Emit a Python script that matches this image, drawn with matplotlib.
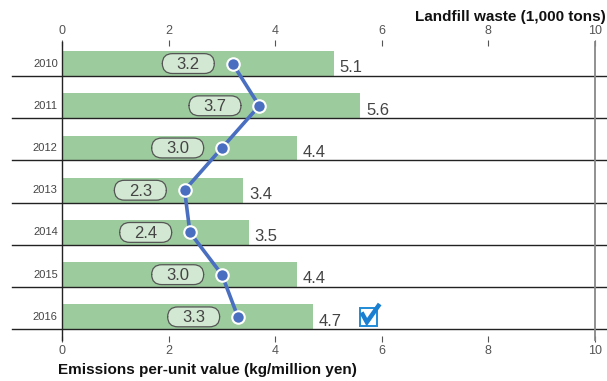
import matplotlib.pyplot as plt
from matplotlib.patches import FancyBboxPatch, Rectangle

plt.rcParams['font.family'] = ['Liberation Sans', 'DejaVu Sans']

years = ['2010', '2011', '2012', '2013', '2014', '2015', '2016']
landfill = [5.1, 5.6, 4.4, 3.4, 3.5, 4.4, 4.7]        # 1,000 tons
emissions = [3.2, 3.7, 3.0, 2.3, 2.4, 3.0, 3.3]       # kg/million yen
ticks = [0, 2, 4, 6, 8, 10]

BAR = '#9ccb9d'
LINE = '#4a6fc0'
BOX = '#d2e8d2'
TXT = '#444444'


def main():
    fig = plt.figure(figsize=(6.07, 3.81), dpi=100)
    # axes box: x 62..595 px, y 40..342 px
    ax = fig.add_axes([62 / 607, 1 - 342 / 381, 533 / 607, 302 / 381])
    ax.set_xlim(0, 10)
    ax.set_ylim(7.30, 0.147)
    for s in ax.spines.values():
        s.set_visible(False)

    n = len(years)
    rows = list(range(n))
    centers = [i + 0.705 for i in rows]

    # bars sit on each row's bottom rule
    ax.barh(centers, landfill, height=0.59, color=BAR, zorder=1)

    # row rules, running past the axes on both sides
    for i in rows:
        ax.plot([-0.94, 10.3], [i + 1, i + 1], color='#222222', lw=1.0,
                clip_on=False, zorder=2)
    ax.plot([0, 0], [0.19, 7.25], color='#222222', lw=1.0, clip_on=False, zorder=2)
    ax.plot([10, 10], [0.19, 7.25], color='#888888', lw=1.3, clip_on=False, zorder=2)

    # year labels and landfill values
    for i in rows:
        ax.text(-0.08, centers[i], years[i], ha='right', va='center',
                fontsize=8, color=TXT)
        ax.text(landfill[i] + 0.11, centers[i] + 0.1, f'{landfill[i]:.1f}',
                ha='left', va='center', fontsize=12, color=TXT)

    # emissions line
    ax.plot(emissions, centers, color=LINE, lw=2.6, marker='o', markersize=9,
            markerfacecolor=LINE, markeredgecolor='white', markeredgewidth=1.5,
            zorder=5)

    # rounded value tags left of each point
    w, h = 0.975, 0.47
    for i in rows:
        cx = emissions[i] - 0.83
        box = FancyBboxPatch((cx - w / 2, centers[i] - h / 2), w, h,
                             boxstyle='round,pad=0,rounding_size=0.19',
                             mutation_aspect=1.26, facecolor=BOX,
                             edgecolor='#555555', lw=0.9, zorder=4)
        ax.add_patch(box)
        ax.text(cx, centers[i] + 0.02, f'{emissions[i]:.1f}', ha='center',
                va='center', fontsize=12, color=TXT, zorder=6)

    # check box next to the latest year
    ax.add_patch(Rectangle((5.59, 6.49), 0.32, 0.43, facecolor='white',
                           edgecolor='#1f8bd6', lw=1.4, zorder=6))
    ax.plot([5.62, 5.72, 5.96], [6.60, 6.83, 6.40], color='#1a7fd0', lw=3.2,
            solid_joinstyle='miter', solid_capstyle='butt', clip_on=False, zorder=7)

    ax.set_xticks(ticks)
    ax.set_yticks([])
    ax.tick_params(axis='x', top=True, labeltop=True, bottom=True, labelbottom=True,
                   direction='in', length=4.5, width=0.8, color='#555555',
                   labelsize=9, labelcolor='#555555', pad=2.2)

    fig.text(606 / 607, 1 - 17 / 381, 'Landfill waste (1,000 tons)', ha='right',
             va='center', fontsize=11, fontweight='bold', color='#111111')
    fig.text(58 / 607, 1 - 370 / 381, 'Emissions per-unit value (kg/million yen)',
             ha='left', va='center', fontsize=11, fontweight='bold', color='#111111')

    fig.savefig('out.png', dpi=100)


if __name__ == '__main__':
    main()
